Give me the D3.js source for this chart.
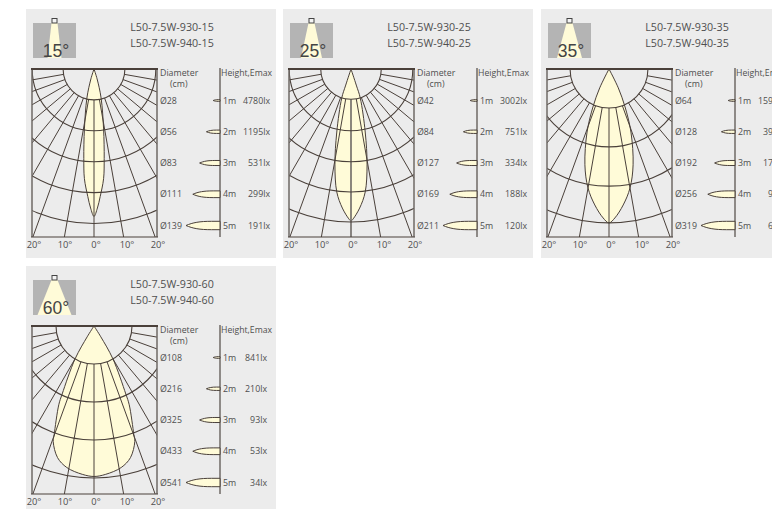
<!DOCTYPE html>
<html><head><meta charset="utf-8">
<script src="https://cdn.jsdelivr.net/npm/d3@7"></script>
<style>html,body{margin:0;padding:0;background:#fff;overflow:hidden}svg{display:block}text{font-family:"Open Sans","Noto Sans",sans-serif;fill:#4f4f4f}</style>
</head><body><svg id="c" width="772" height="509"></svg>
<script>
const beamAngles = [15, 25, 35, 60];
const model930 = ["L50-7.5W-930-15", "L50-7.5W-930-25", "L50-7.5W-930-35", "L50-7.5W-930-60"];
const model940 = ["L50-7.5W-940-15", "L50-7.5W-940-25", "L50-7.5W-940-35", "L50-7.5W-940-60"];
const heights = [1, 2, 3, 4, 5];
const diameters15 = ["Ø28", "Ø56", "Ø83", "Ø111", "Ø139"];
const diameters25 = ["Ø42", "Ø84", "Ø127", "Ø169", "Ø211"];
const diameters35 = ["Ø64", "Ø128", "Ø192", "Ø256", "Ø319"];
const diameters60 = ["Ø108", "Ø216", "Ø325", "Ø433", "Ø541"];
const emax15 = ["4780lx", "1195lx", "531lx", "299lx", "191lx"];
const emax25 = ["3002lx", "751lx", "334lx", "188lx", "120lx"];
const emax35 = ["1590lx", "398lx", "177lx", "99lx", "64lx"];
const emax60 = ["841lx", "210lx", "93lx", "53lx", "34lx"];
// beam outline: depth (m) and half width (m)
const depth15 = [0, 0.32, 0.94, 1.94, 2.9, 3.55, 4.13, 4.5, 4.77];
const half15 = [0, 0.1, 0.23, 0.31, 0.33, 0.31, 0.2, 0.11, 0];
const depth25 = [0, 0.52, 0.94, 2.04, 3.1, 3.98, 4.5, 4.85, 4.92];
const half25 = [0, 0.17, 0.3, 0.46, 0.52, 0.46, 0.28, 0.07, 0];
const depth35 = [0, 0.61, 1.23, 2.04, 3.1, 3.85, 4.4, 4.82, 4.98];
const half35 = [0, 0.3, 0.52, 0.71, 0.78, 0.68, 0.46, 0.19, 0];
const depth60 = [0, 0.35, 1.06, 2.2, 2.55, 3.52, 3.74, 4.26, 4.58, 4.8, 4.87];
const half60 = [0, 0.22, 0.61, 1.03, 1.14, 1.29, 1.32, 1.18, 0.88, 0.38, 0];
const tickLabels = ["20°", "10°", "0°", "10°", "20°"];
const tickPositions = [-2, -1, 0, 1, 2];
const spokeAngles = [-80, -70, -60, -50, -40, -30, -20, -10, 0, 10, 20, 30, 40, 50, 60, 70, 80];
const arcs15 = [1, 2, 3, 4, 5];
const arcs25 = [0.98, 2, 3, 3.98, 4.95];
const arcs35 = [1.26, 2.52, 3.79, 4.98];
const arcs60 = [1.23, 2.46, 3.69, 4.92];

const panels = [
  {dx: 0, dy: 0, d: diameters15, e: emax15, depth: depth15, half: half15, arcs: arcs15, zero: 1},
  {dx: 257, dy: 0, d: diameters25, e: emax25, depth: depth25, half: half25, arcs: arcs25, zero: 1.6},
  {dx: 515, dy: 0, d: diameters35, e: emax35, depth: depth35, half: half35, arcs: arcs35, zero: 1},
  {dx: 0, dy: 257, d: diameters60, e: emax60, depth: depth60, half: half60, arcs: arcs60, zero: 1, endX: 267}
];
const svg = d3.select("#c");
const r = d3.scaleLinear().domain([0, 5]).range([0, 154.5]);
const yH = d3.scaleLinear().domain([1, 5]).range([100.5, 225.5]);
const coneLen = d3.scaleLinear().domain([0, 5]).range([0, 34]);
const coneHalf = d3.scaleLinear().domain([0, 5]).range([0, 4.2]);
const tickX = d3.scaleLinear().domain([-2, 2]).range([34, 158]);
const dark = "#4a403a", gray = "#6f6a66";
const cx = 94, cy = 69;
const line = d3.line().x(p => p[0]).y(p => p[1]).curve(d3.curveCatmullRom.alpha(0.5));
const iconSpread = [7, 10.5, 12.5, 17];

panels.forEach((p, i) => {
  const g = svg.append("g").attr("transform", `translate(${p.dx},${p.dy})`);
  g.append("rect").attr("x", 26).attr("y", 9).attr("width", 250).attr("height", i === 3 ? 244 : 249).attr("fill", "#ececec");

  // icon
  g.append("rect").attr("x", 33).attr("y", 23).attr("width", 43).attr("height", 35).attr("fill", "#b4b4b4");
  const spread = iconSpread[i];
  g.append("path").attr("d", `M51.5,23L57.5,23L${54.5 + spread},58L${54.5 - spread},58Z`).attr("fill", "#fffbd8");
  g.append("rect").attr("x", 52).attr("y", 18.5).attr("width", 5).attr("height", 4.5).attr("fill", "#f4f4f4").attr("stroke", "#444").attr("stroke-width", 1);
  g.append("text").attr("x", 56).attr("y", 57).attr("text-anchor", "middle").style("font-family", "Liberation Sans").style("font-size", "17.5px").style("fill", "#444").text(beamAngles[i] + "°");

  // titles
  g.append("text").attr("x", 172).attr("y", 31).attr("text-anchor", "middle").style("font-size", "10.7px").text(model930[i]);
  g.append("text").attr("x", 172).attr("y", 46.5).attr("text-anchor", "middle").style("font-size", "10.7px").text(model940[i]);

  // polar chart
  const clipId = "clip" + i;
  g.append("clipPath").attr("id", clipId).append("rect").attr("x", 32).attr("y", 69).attr("width", 125).attr("height", 168);
  const plot = g.append("g").attr("clip-path", `url(#${clipId})`);
  const right = p.depth.map((d, k) => [cx + r(p.half[k]), cy + r(d)]);
  const left = p.depth.map((d, k) => [cx - r(p.half[k]), cy + r(d)]).reverse().slice(1);
  plot.append("path").attr("d", line(right.concat(left)) + "Z").attr("fill", "#fffbd8").attr("stroke", dark).attr("stroke-width", 1);
  spokeAngles.forEach(a => {
    const t = a * Math.PI / 180;
    plot.append("line")
      .attr("x1", cx + r(p.arcs[0]) * Math.sin(t)).attr("y1", cy + r(p.arcs[0]) * Math.cos(t))
      .attr("x2", cx + r(7) * Math.sin(t)).attr("y2", cy + r(7) * Math.cos(t))
      .attr("stroke", a === 0 && p.zero > 1 ? gray : dark).attr("stroke-width", a === 0 ? p.zero : 1);
  });
  const arc = d3.arc().startAngle(Math.PI / 2).endAngle(Math.PI * 1.5);
  p.arcs.forEach(m => {
    plot.append("path").attr("transform", `translate(${cx},${cy})`)
      .attr("d", arc({innerRadius: r(m), outerRadius: r(m)}))
      .attr("fill", "none").attr("stroke", dark).attr("stroke-width", 1.1);
  });
  g.append("line").attr("x1", 32).attr("x2", 32).attr("y1", 69).attr("y2", 237).attr("stroke", gray).attr("stroke-width", 1.5);
  g.append("line").attr("x1", 157).attr("x2", 157).attr("y1", 69).attr("y2", 237).attr("stroke", gray).attr("stroke-width", 1.5);
  g.append("line").attr("x1", 31).attr("x2", 158).attr("y1", 69).attr("y2", 69).attr("stroke", dark).attr("stroke-width", 1.8);
  g.append("line").attr("x1", 31).attr("x2", 158).attr("y1", 237).attr("y2", 237).attr("stroke", dark).attr("stroke-width", 1);

  tickLabels.forEach((t, k) => {
    g.append("text").attr("x", tickX(tickPositions[k])).attr("y", 248).attr("text-anchor", "middle").style("font-size", "9.3px").text(t);
  });

  // legend
  g.append("text").attr("x", 160).attr("y", 76).style("font-size", "8.8px").text("Diameter");
  g.append("text").attr("x", 170).attr("y", 87).style("font-size", "8.8px").text("(cm)");
  g.append("text").attr("x", 221).attr("y", 76).style("font-size", "8.7px").text("Height,Emax");
  g.append("line").attr("x1", 220).attr("x2", 220).attr("y1", 68).attr("y2", 237).attr("stroke", gray).attr("stroke-width", 1.5);
  heights.forEach((h, k) => {
    const y = yH(h), L = coneLen(h), H = coneHalf(h);
    const cp = d3.path();
    cp.moveTo(220 - L, y);
    cp.bezierCurveTo(220 - L * 0.8, y - H * 0.7, 220 - L * 0.6, y - H, 220 - L * 0.25, y - H);
    cp.lineTo(220, y - H);
    cp.lineTo(220, y + H);
    cp.lineTo(220 - L * 0.25, y + H);
    cp.bezierCurveTo(220 - L * 0.6, y + H, 220 - L * 0.8, y + H * 0.7, 220 - L, y);
    cp.closePath();
    g.append("path").attr("d", cp.toString()).attr("fill", "#fffbd8").attr("stroke", dark).attr("stroke-width", 1);
    g.append("text").attr("x", 160).attr("y", y + 3).style("font-size", "8.8px").text(p.d[k]);
    g.append("text").attr("x", 223).attr("y", y + 3).style("font-size", "8.8px").text(h + "m");
    g.append("text").attr("x", p.endX || 270).attr("y", y + 3).attr("text-anchor", "end").style("font-size", "8.8px").text(p.e[k]);
  });
});
</script></body></html>
